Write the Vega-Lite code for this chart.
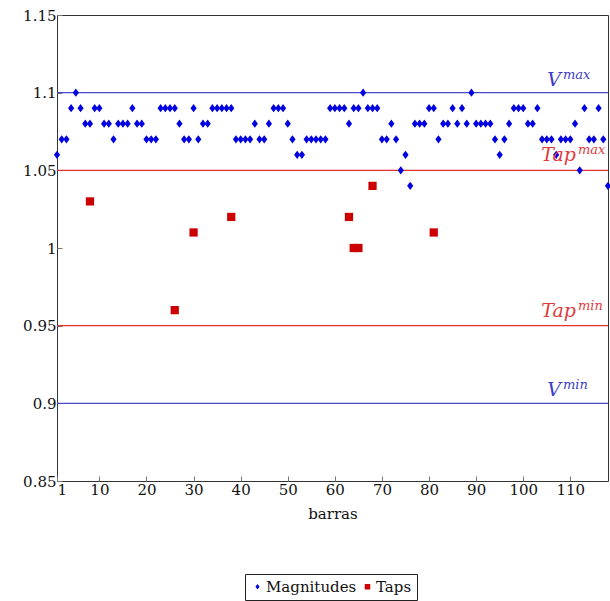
{
  "$schema": "https://vega.github.io/schema/vega-lite/v6.json",
  "width": 551,
  "height": 466,
  "autosize": {"type": "none"},
  "padding": {"left": 57, "top": 15, "right": 2, "bottom": 120},
  "background": "white",
  "config": {
    "view": {"stroke": "#333", "strokeWidth": 1},
    "font": "DejaVu Serif",
    "axis": {"grid": false, "domain": false, "labelFont": "DejaVu Serif", "titleFont": "DejaVu Serif", "labelColor": "#111", "titleColor": "#111", "labelFontSize": 15, "titleFontSize": 15, "titleFontWeight": "normal", "tickColor": "#777", "tickSize": -5},
    "legend": {"orient": "none", "legendX": 188, "legendY": 559, "direction": "horizontal", "title": null, "strokeColor": "#222", "padding": 5, "labelFont": "DejaVu Serif", "labelFontSize": 15, "labelColor": "#111", "labelOffset": 1, "symbolSize": 30, "columnPadding": 3, "symbolStrokeWidth": 0}
  },
  "datasets": {
    "pts": [
      {"barra":1,"valor":1.06,"serie":"Magnitudes"},{"barra":2,"valor":1.07,"serie":"Magnitudes"},{"barra":3,"valor":1.07,"serie":"Magnitudes"},{"barra":4,"valor":1.09,"serie":"Magnitudes"},{"barra":5,"valor":1.10,"serie":"Magnitudes"},{"barra":6,"valor":1.09,"serie":"Magnitudes"},{"barra":7,"valor":1.08,"serie":"Magnitudes"},{"barra":8,"valor":1.08,"serie":"Magnitudes"},{"barra":9,"valor":1.09,"serie":"Magnitudes"},{"barra":10,"valor":1.09,"serie":"Magnitudes"},
      {"barra":11,"valor":1.08,"serie":"Magnitudes"},{"barra":12,"valor":1.08,"serie":"Magnitudes"},{"barra":13,"valor":1.07,"serie":"Magnitudes"},{"barra":14,"valor":1.08,"serie":"Magnitudes"},{"barra":15,"valor":1.08,"serie":"Magnitudes"},{"barra":16,"valor":1.08,"serie":"Magnitudes"},{"barra":17,"valor":1.09,"serie":"Magnitudes"},{"barra":18,"valor":1.08,"serie":"Magnitudes"},{"barra":19,"valor":1.08,"serie":"Magnitudes"},{"barra":20,"valor":1.07,"serie":"Magnitudes"},
      {"barra":21,"valor":1.07,"serie":"Magnitudes"},{"barra":22,"valor":1.07,"serie":"Magnitudes"},{"barra":23,"valor":1.09,"serie":"Magnitudes"},{"barra":24,"valor":1.09,"serie":"Magnitudes"},{"barra":25,"valor":1.09,"serie":"Magnitudes"},{"barra":26,"valor":1.09,"serie":"Magnitudes"},{"barra":27,"valor":1.08,"serie":"Magnitudes"},{"barra":28,"valor":1.07,"serie":"Magnitudes"},{"barra":29,"valor":1.07,"serie":"Magnitudes"},{"barra":30,"valor":1.09,"serie":"Magnitudes"},
      {"barra":31,"valor":1.07,"serie":"Magnitudes"},{"barra":32,"valor":1.08,"serie":"Magnitudes"},{"barra":33,"valor":1.08,"serie":"Magnitudes"},{"barra":34,"valor":1.09,"serie":"Magnitudes"},{"barra":35,"valor":1.09,"serie":"Magnitudes"},{"barra":36,"valor":1.09,"serie":"Magnitudes"},{"barra":37,"valor":1.09,"serie":"Magnitudes"},{"barra":38,"valor":1.09,"serie":"Magnitudes"},{"barra":39,"valor":1.07,"serie":"Magnitudes"},{"barra":40,"valor":1.07,"serie":"Magnitudes"},
      {"barra":41,"valor":1.07,"serie":"Magnitudes"},{"barra":42,"valor":1.07,"serie":"Magnitudes"},{"barra":43,"valor":1.08,"serie":"Magnitudes"},{"barra":44,"valor":1.07,"serie":"Magnitudes"},{"barra":45,"valor":1.07,"serie":"Magnitudes"},{"barra":46,"valor":1.08,"serie":"Magnitudes"},{"barra":47,"valor":1.09,"serie":"Magnitudes"},{"barra":48,"valor":1.09,"serie":"Magnitudes"},{"barra":49,"valor":1.09,"serie":"Magnitudes"},{"barra":50,"valor":1.08,"serie":"Magnitudes"},
      {"barra":51,"valor":1.07,"serie":"Magnitudes"},{"barra":52,"valor":1.06,"serie":"Magnitudes"},{"barra":53,"valor":1.06,"serie":"Magnitudes"},{"barra":54,"valor":1.07,"serie":"Magnitudes"},{"barra":55,"valor":1.07,"serie":"Magnitudes"},{"barra":56,"valor":1.07,"serie":"Magnitudes"},{"barra":57,"valor":1.07,"serie":"Magnitudes"},{"barra":58,"valor":1.07,"serie":"Magnitudes"},{"barra":59,"valor":1.09,"serie":"Magnitudes"},{"barra":60,"valor":1.09,"serie":"Magnitudes"},
      {"barra":61,"valor":1.09,"serie":"Magnitudes"},{"barra":62,"valor":1.09,"serie":"Magnitudes"},{"barra":63,"valor":1.08,"serie":"Magnitudes"},{"barra":64,"valor":1.09,"serie":"Magnitudes"},{"barra":65,"valor":1.09,"serie":"Magnitudes"},{"barra":66,"valor":1.10,"serie":"Magnitudes"},{"barra":67,"valor":1.09,"serie":"Magnitudes"},{"barra":68,"valor":1.09,"serie":"Magnitudes"},{"barra":69,"valor":1.09,"serie":"Magnitudes"},{"barra":70,"valor":1.07,"serie":"Magnitudes"},
      {"barra":71,"valor":1.07,"serie":"Magnitudes"},{"barra":72,"valor":1.08,"serie":"Magnitudes"},{"barra":73,"valor":1.07,"serie":"Magnitudes"},{"barra":74,"valor":1.05,"serie":"Magnitudes"},{"barra":75,"valor":1.06,"serie":"Magnitudes"},{"barra":76,"valor":1.04,"serie":"Magnitudes"},{"barra":77,"valor":1.08,"serie":"Magnitudes"},{"barra":78,"valor":1.08,"serie":"Magnitudes"},{"barra":79,"valor":1.08,"serie":"Magnitudes"},{"barra":80,"valor":1.09,"serie":"Magnitudes"},
      {"barra":81,"valor":1.09,"serie":"Magnitudes"},{"barra":82,"valor":1.07,"serie":"Magnitudes"},{"barra":83,"valor":1.08,"serie":"Magnitudes"},{"barra":84,"valor":1.08,"serie":"Magnitudes"},{"barra":85,"valor":1.09,"serie":"Magnitudes"},{"barra":86,"valor":1.08,"serie":"Magnitudes"},{"barra":87,"valor":1.09,"serie":"Magnitudes"},{"barra":88,"valor":1.08,"serie":"Magnitudes"},{"barra":89,"valor":1.10,"serie":"Magnitudes"},{"barra":90,"valor":1.08,"serie":"Magnitudes"},
      {"barra":91,"valor":1.08,"serie":"Magnitudes"},{"barra":92,"valor":1.08,"serie":"Magnitudes"},{"barra":93,"valor":1.08,"serie":"Magnitudes"},{"barra":94,"valor":1.07,"serie":"Magnitudes"},{"barra":95,"valor":1.06,"serie":"Magnitudes"},{"barra":96,"valor":1.07,"serie":"Magnitudes"},{"barra":97,"valor":1.08,"serie":"Magnitudes"},{"barra":98,"valor":1.09,"serie":"Magnitudes"},{"barra":99,"valor":1.09,"serie":"Magnitudes"},{"barra":100,"valor":1.09,"serie":"Magnitudes"},
      {"barra":101,"valor":1.08,"serie":"Magnitudes"},{"barra":102,"valor":1.08,"serie":"Magnitudes"},{"barra":103,"valor":1.09,"serie":"Magnitudes"},{"barra":104,"valor":1.07,"serie":"Magnitudes"},{"barra":105,"valor":1.07,"serie":"Magnitudes"},{"barra":106,"valor":1.07,"serie":"Magnitudes"},{"barra":107,"valor":1.06,"serie":"Magnitudes"},{"barra":108,"valor":1.07,"serie":"Magnitudes"},{"barra":109,"valor":1.07,"serie":"Magnitudes"},{"barra":110,"valor":1.07,"serie":"Magnitudes"},
      {"barra":111,"valor":1.08,"serie":"Magnitudes"},{"barra":112,"valor":1.05,"serie":"Magnitudes"},{"barra":113,"valor":1.09,"serie":"Magnitudes"},{"barra":114,"valor":1.07,"serie":"Magnitudes"},{"barra":115,"valor":1.07,"serie":"Magnitudes"},{"barra":116,"valor":1.09,"serie":"Magnitudes"},{"barra":117,"valor":1.07,"serie":"Magnitudes"},{"barra":118,"valor":1.04,"serie":"Magnitudes"},
      {"barra":8,"valor":1.03,"serie":"Taps"},{"barra":26,"valor":0.96,"serie":"Taps"},{"barra":30,"valor":1.01,"serie":"Taps"},{"barra":38,"valor":1.02,"serie":"Taps"},{"barra":63,"valor":1.02,"serie":"Taps"},{"barra":64,"valor":1.00,"serie":"Taps"},{"barra":65,"valor":1.00,"serie":"Taps"},{"barra":68,"valor":1.04,"serie":"Taps"},{"barra":81,"valor":1.01,"serie":"Taps"}
    ],
    "refs": [
      {"valor": 1.10, "tipo": "V", "base": "V", "sup": "max"},
      {"valor": 1.05, "tipo": "Tap", "base": "Tap", "sup": "max"},
      {"valor": 0.95, "tipo": "Tap", "base": "Tap", "sup": "min"},
      {"valor": 0.90, "tipo": "V", "base": "V", "sup": "min"}
    ]
  },
  "layer": [
    {
      "data": {"name": "refs"},
      "mark": {"type": "rule", "strokeWidth": 1.2},
      "encoding": {
        "y": {"field": "valor", "type": "quantitative", "scale": {"domain": [0.85, 1.15], "nice": false, "zero": false},
              "axis": {"title": null, "values": [0.85, 0.9, 0.95, 1, 1.05, 1.1, 1.15], "format": "~g", "labelPadding": 6}},
        "color": {"condition": {"test": "datum.tipo === 'V'", "value": "#4a4ad0"}, "value": "#e03030"}
      }
    },
    {
      "data": {"name": "pts"},
      "mark": {"type": "point", "filled": true, "opacity": 1, "size": 68},
      "encoding": {
        "x": {"field": "barra", "type": "quantitative", "scale": {"domain": [1, 118], "nice": false, "zero": false},
              "axis": {"title": "barras", "values": [1, 10, 20, 30, 40, 50, 60, 70, 80, 90, 100, 110], "labelPadding": 6, "titlePadding": 9}},
        "y": {"field": "valor", "type": "quantitative"},
        "shape": {"field": "serie", "type": "nominal", "scale": {"domain": ["Magnitudes", "Taps"], "range": ["M-0.75,0L0,-1L0.75,0L0,1Z", "square"]},
                  "legend": {"title": null}},
        "color": {"field": "serie", "type": "nominal", "scale": {"domain": ["Magnitudes", "Taps"], "range": ["#0000e0", "#cc0000"]},
                  "legend": {"title": null}}
      }
    },
    {
      "data": {"name": "refs"},
      "transform": [{"filter": "datum.tipo === 'V'"}],
      "mark": {"type": "text", "align": "right", "baseline": "alphabetic", "dx": -47, "dy": -7, "font": "DejaVu Serif", "fontStyle": "italic", "fontSize": 19, "color": "#3c3cc8"},
      "encoding": {"x": {"datum": 118, "type": "quantitative"}, "y": {"field": "valor", "type": "quantitative"}, "text": {"field": "base"}}
    },
    {
      "data": {"name": "refs"},
      "transform": [{"filter": "datum.tipo === 'V'"}],
      "mark": {"type": "text", "align": "left", "baseline": "alphabetic", "dx": -45, "dy": -14, "font": "DejaVu Serif", "fontStyle": "italic", "fontSize": 13, "color": "#3c3cc8"},
      "encoding": {"x": {"datum": 118, "type": "quantitative"}, "y": {"field": "valor", "type": "quantitative"}, "text": {"field": "sup"}}
    },
    {
      "data": {"name": "refs"},
      "transform": [{"filter": "datum.tipo === 'Tap'"}],
      "mark": {"type": "text", "align": "right", "baseline": "alphabetic", "dx": -32, "dy": -9, "font": "DejaVu Serif", "fontStyle": "italic", "fontSize": 19, "color": "#e03c3c"},
      "encoding": {"x": {"datum": 118, "type": "quantitative"}, "y": {"field": "valor", "type": "quantitative"}, "text": {"field": "base"}}
    },
    {
      "data": {"name": "refs"},
      "transform": [{"filter": "datum.tipo === 'Tap'"}],
      "mark": {"type": "text", "align": "left", "baseline": "alphabetic", "dx": -30, "dy": -16, "font": "DejaVu Serif", "fontStyle": "italic", "fontSize": 13, "color": "#e03c3c"},
      "encoding": {"x": {"datum": 118, "type": "quantitative"}, "y": {"field": "valor", "type": "quantitative"}, "text": {"field": "sup"}}
    }
  ]
}
